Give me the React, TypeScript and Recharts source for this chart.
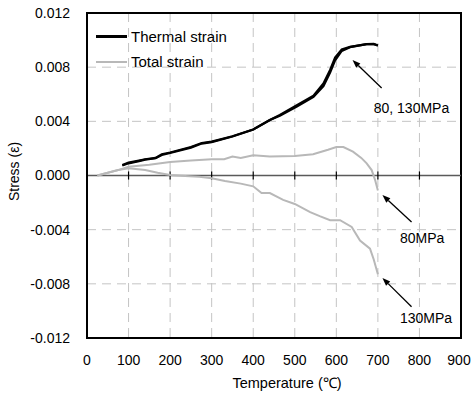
import {
  ComposedChart,
  Line,
  XAxis,
  YAxis,
  CartesianGrid,
  ReferenceLine,
  ReferenceArea,
  ReferenceDot,
} from 'recharts'

// thermal strain (80 and 130 MPa runs overlap)
const thermalTemp = [85, 100, 125, 140, 165, 180, 200, 250, 276, 300, 350, 400, 440, 464, 505, 545, 569, 585, 597, 613, 633, 673, 690, 700]
const thermal80 = [0.00078, 0.00095, 0.0011, 0.0012, 0.0013, 0.00157, 0.0017, 0.0021, 0.0024, 0.0025, 0.0029, 0.0034, 0.0041, 0.00447, 0.0052, 0.0059, 0.0068, 0.0078, 0.0087, 0.0093, 0.0095, 0.0097, 0.00972, 0.0096]
const thermal130 = [0.00074, 0.0009, 0.00106, 0.00117, 0.00127, 0.00152, 0.00166, 0.00206, 0.00236, 0.00247, 0.00288, 0.0034, 0.0041, 0.00442, 0.0051, 0.0058, 0.0066, 0.0076, 0.0085, 0.0092, 0.00948, 0.0097, 0.0097, 0.0096]

const total80Temp = [25, 50, 75, 100, 150, 200, 250, 300, 330, 350, 370, 400, 440, 500, 544, 580, 600, 617, 640, 660, 673, 685, 693, 700]
const total80 = [0, 0.0002, 0.0004, 0.00065, 0.0008, 0.001, 0.0011, 0.0012, 0.0012, 0.0014, 0.0013, 0.0015, 0.0014, 0.00144, 0.00157, 0.0019, 0.0021, 0.0021, 0.00176, 0.0013, 0.0009, 0.0004, -0.0003, -0.0011]

const total130Temp = [25, 50, 75, 100, 140, 170, 200, 236, 270, 300, 332, 370, 400, 420, 440, 472, 500, 537, 560, 585, 609, 637, 657, 681, 690, 700]
const total130 = [0, 0.0002, 0.0004, 0.00053, 0.0004, 0.0002, 0.00004, -0.00004, -0.0001, -0.0002, -0.0004, -0.0006, -0.0008, -0.0013, -0.0013, -0.0018, -0.0021, -0.0027, -0.003, -0.0033, -0.0033, -0.0038, -0.0048, -0.0054, -0.0062, -0.0073]

const xTicks = [0, 100, 200, 300, 400, 500, 600, 700, 800, 900]
const yTicks = [-0.012, -0.008, -0.004, 0, 0.004, 0.008, 0.012]
const gridX = [100, 200, 300, 400, 500, 600, 700, 800]
const gridY = [-0.008, -0.004, 0.004, 0.008]

// annotation arrows: head -> tail, label placed near the tail
const notes = [
  { text: '80, 130MPa', head: [639, 0.00853], tail: [709, 0.00646], at: [690, 0.005] },
  { text: '80MPa', head: [711, -0.00144], tail: [781, -0.00343], at: [753, -0.0046] },
  { text: '130MPa', head: [711, -0.00757], tail: [781, -0.00969], at: [753, -0.0105] },
]

const zip = (xs: number[], ys: number[]) => xs.map((t, i) => ({ t, v: ys[i] }))

const font = 'Liberation Sans, Arial, sans-serif'

const ArrowShape = (p: any) => {
  const { x1, y1, x2, y2 } = p
  const ang = Math.atan2(y2 - y1, x2 - x1)
  const len = 8
  const w = 3
  const bx = x1 + Math.cos(ang) * len
  const by = y1 + Math.sin(ang) * len
  const px = -Math.sin(ang) * w
  const py = Math.cos(ang) * w
  return (
    <g>
      <line x1={bx} y1={by} x2={x2} y2={y2} stroke="#000" strokeWidth={1.3} />
      <polygon points={`${x1},${y1} ${bx + px},${by + py} ${bx - px},${by - py}`} fill="#000" />
    </g>
  )
}

// x tick: keep the last label inside the picture
const XTick = (p: any) => {
  const { x, y, payload } = p
  const shift = payload.value === 900 ? -2 : 0
  return (
    <text x={x + shift} y={y} dy="0.71em" textAnchor="middle" fill="#000" fontSize={14} fontFamily={font}>
      {payload.value}
    </text>
  )
}

const LegendBox = () => (
  <div style={{ position: 'absolute', left: 96, top: 24, fontFamily: font, fontSize: 15, color: '#000' }}>
    <div style={{ display: 'flex', alignItems: 'center', height: 25 }}>
      <span style={{ display: 'inline-block', width: 31, height: 3, background: '#000', marginRight: 4 }} />
      Thermal strain
    </div>
    <div style={{ display: 'flex', alignItems: 'center', height: 25 }}>
      <span style={{ display: 'inline-block', width: 31, height: 2, background: '#b8b8b8', marginRight: 4 }} />
      Total strain
    </div>
  </div>
)

export default function App() {
  return (
    <div style={{ position: 'absolute', left: 0, top: 0, width: 471, height: 394, background: '#fff' }}>
      <ComposedChart width={471} height={394} margin={{ top: 13, right: 10, bottom: 0, left: 0 }}>
        <CartesianGrid
          stroke="#c4c4c4"
          strokeDasharray="9 6"
          horizontalValues={gridY}
          verticalValues={gridX}
        />
        <XAxis
          type="number"
          dataKey="t"
          domain={[0, 900]}
          ticks={xTicks}
          interval={0}
          height={56}
          tickSize={0}
          tickMargin={17}
          axisLine={{ stroke: '#000', strokeWidth: 2 }}
          tick={<XTick />}
          label={{ value: 'Temperature (℃)', position: 'insideBottom', offset: 6, dx: 13, fill: '#000', fontSize: 14.5, fontFamily: font }}
          allowDuplicatedCategory={false}
        />
        <YAxis
          type="number"
          domain={[-0.012, 0.012]}
          ticks={yTicks}
          interval={0}
          width={87}
          tickSize={0}
          tickMargin={17}
          tickFormatter={(v: number) => v.toFixed(3)}
          axisLine={{ stroke: '#000', strokeWidth: 2 }}
          tick={{ fill: '#000', fontSize: 14, fontFamily: font }}
          label={{ value: 'Stress (ε)', angle: -90, position: 'insideLeft', offset: 14, dy: -4, fill: '#000', fontSize: 14, fontFamily: font, style: { textAnchor: 'middle' } }}
        />
        <ReferenceArea x1={0} x2={900} y1={-0.012} y2={0.012} fill="none" stroke="#000" strokeWidth={2} ifOverflow="visible" />
        <ReferenceLine y={0} stroke="#5a5a5a" strokeWidth={1.5} />
        {gridX.map((t) => (
          <ReferenceLine key={'tk' + t} segment={[{ x: t, y: -0.0003 }, { x: t, y: 0.0003 }]} stroke="#000" strokeWidth={1.2} />
        ))}
        <Line data={zip(total130Temp, total130)} dataKey="v" name="Total strain 130" stroke="#b8b8b8" strokeWidth={2} dot={false} isAnimationActive={false} />
        <Line data={zip(total80Temp, total80)} dataKey="v" name="Total strain 80" stroke="#b8b8b8" strokeWidth={2} dot={false} isAnimationActive={false} />
        <Line data={zip(thermalTemp, thermal130)} dataKey="v" name="Thermal strain 130" stroke="#000" strokeWidth={2.2} dot={false} isAnimationActive={false} />
        <Line data={zip(thermalTemp, thermal80)} dataKey="v" name="Thermal strain 80" stroke="#000" strokeWidth={2.2} dot={false} isAnimationActive={false} />
        {notes.map((n) => (
          <ReferenceLine
            key={n.text}
            segment={[{ x: n.head[0], y: n.head[1] }, { x: n.tail[0], y: n.tail[1] }]}
            shape={ArrowShape}
          />
        ))}
        {notes.map((n) => (
          <ReferenceDot
            key={'l' + n.text}
            x={n.at[0]}
            y={n.at[1]}
            r={0}
            fill="none"
            stroke="none"
            label={{ value: n.text, position: 'right', offset: 0, fill: '#000', fontSize: 14, fontFamily: font }}
          />
        ))}
      </ComposedChart>
      <LegendBox />
    </div>
  )
}
